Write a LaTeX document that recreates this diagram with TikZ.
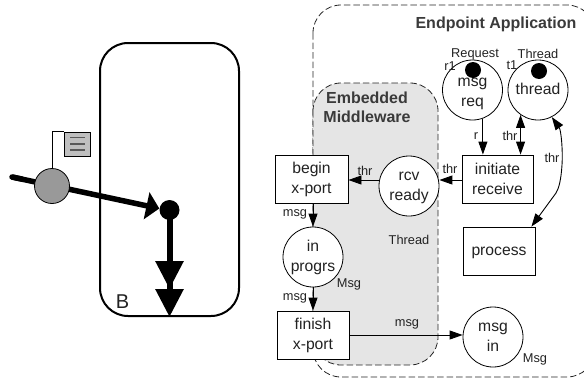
\documentclass[tikz,border=0pt]{standalone}
\usepackage{fontspec}
\setmainfont{Liberation Sans}
\usetikzlibrary{arrows.meta,calc}
\definecolor{txt}{HTML}{222222}
\definecolor{ttl}{HTML}{3A3A3A}
\newcommand\tx[2][0]{\raisebox{\dimexpr-#1pt-3.9pt\relax}[0pt][0pt]{\begin{tabular}{@{}c@{}}#2\end{tabular}}}
\tikzset{
  place/.style={circle,draw,line width=.8pt,fill=white,inner sep=0pt,minimum size=60pt,font=\fontsize{15.7}{20}\selectfont,text=txt},
  trans/.style={rectangle,draw,line width=.9pt,fill=white,inner sep=0pt,minimum width=72pt,minimum height=48pt,font=\fontsize{15.7}{20}\selectfont,text=txt},
  token/.style={circle,fill=black,inner sep=0pt,minimum size=16pt},
  lbl/.style={inner sep=0pt,font=\fontsize{12.8}{14}\selectfont,text=txt},
  ttlb/.style={inner sep=0pt,font=\fontsize{16}{19}\selectfont\bfseries,text=ttl,align=center},
  arc/.style={line width=.9pt,-{Triangle[length=13pt,width=9pt]}},
  biarc/.style={line width=.9pt,{Triangle[length=13pt,width=9pt]}-{Triangle[length=13pt,width=9pt]}},
  region/.style={dash pattern=on 6.5pt off 3pt,line width=.8pt,draw=black!85,rounded corners=28pt},
}
\begin{document}
\begin{tikzpicture}[x=1pt,y=-1pt]
\useasboundingbox (0,0) rectangle (584,378);
\begin{scope}
\clip (0,0) rectangle (584,378);
\draw[region] (313,5) rectangle (595,377);
\end{scope}
\path[region,fill=black!10] (313,83) rectangle (438,365);
% left part
\node[draw,line width=2pt,rounded corners=28pt,minimum width=139pt,minimum height=273pt,inner sep=0pt] (B) at (169.5,179.5) {};
\node[inner sep=0pt,font=\fontsize{20}{22}\selectfont,text=txt] (Blabel) at (122.5,302) {B};
\coordinate (src) at (12,177);
\node[circle,fill=black,inner sep=0pt,minimum size=20pt] (dot) at (169.5,210) {};
\draw[line width=5.5pt,-{Triangle[length=13pt,width=27pt]}] (src) -- (dot.west |- 0,208.5);
\draw[line width=5.5pt,line cap=round] (src) -- ++(10,2.1);
\draw[line width=6pt,-{Triangle[length=28pt,width=27pt]Triangle[length=28pt,width=27pt]}] (dot.center) -- (B.south);
\node[circle,draw,line width=.8pt,fill=black!40,inner sep=0pt,minimum size=35pt] (ctx) at (52,186) {};
\node[rectangle,draw,line width=.9pt,fill=black!25,inner sep=0pt,minimum width=26pt,minimum height=24pt] (flag) at (77,144) {};
\draw[line width=.8pt] (ctx.north) |- (flag.north west);
\foreach \yy in {137.5,144,150}{\draw[line width=1.1pt,black!65] (70,\yy) -- (85,\yy);}
% places and transitions
\node[place] (msgreq) at (472.5,90) {\tx[2]{msg\\req}};
\node[place] (thread) at (538,90) {\tx[.5]{thread}};
\node[token] (t1tok) at (473,70) {};
\node[token] (t2tok) at (539,71) {};
\node[trans,minimum width=71pt] (init) at (497.5,179) {\tx[1]{initiate\\receive}};
\node[place] (rcv) at (409,186) {\tx{rcv\\ready}};
\node[trans,minimum width=73pt] (begin) at (311.5,179) {\tx{begin\\x-port}};
\node[place] (prog) at (313,257) {\tx{in\\progrs}};
\node[trans] (finish) at (313,335) {\tx{finish\\x-port}};
\node[place] (msgin) at (493,337) {\tx{msg\\in}};
\node[trans] (proc) at (499,251) {\tx{process}};
% arcs
\draw[arc] (msgreq.-70) -- (msgreq.-70 |- init.north);
\draw[biarc] (thread.-125) -- (thread.-125 |- init.north);
\coordinate (procin) at ($(proc.north east)+(-4,0)$);
\draw[biarc] (thread.-63) .. controls (561,130) and (563,150) .. (562,165) .. controls (561,180) and (559,188) .. (556,193) -- (procin);
\draw[arc] (init.west |- 0,180) -- (rcv.east |- 0,180);
\draw[arc] (rcv.west |- 0,180) -- (begin.east |- 0,180);
\draw[arc] (begin.south -| prog.north) -- (prog.north);
\draw[arc] (prog.south) -- (prog.south |- finish.north);
\draw[arc] (finish.east |- 0,335) -- (msgin.west |- 0,335);
% labels
\node[ttlb] (title1) at (496,24) {Endpoint Application};
\node[ttlb] (title2) at (367,107.5) {Embedded\\[0pt]Middleware};
\node[lbl] (l1) at (475,54) {Request};
\node[lbl] (l2) at (538,54) {Thread};
\node[lbl] (l3) at (450,66) {r1};
\node[lbl] (l4) at (512,65) {t1};
\node[lbl] (l5) at (476,136) {r};
\node[lbl] (l6) at (510,136) {thr};
\node[lbl] (l7) at (552,158) {thr};
\node[lbl] (l8) at (450,169) {thr};
\node[lbl] (l9) at (365,171) {thr};
\node[lbl] (l10) at (295,214) {msg};
\node[lbl] (l11) at (295,298) {msg};
\node[lbl] (l12) at (407,324) {msg};
\node[lbl] (l13) at (409,240) {Thread};
\node[lbl] (l14) at (349,284) {Msg};
\node[lbl] (l15) at (535,359) {Msg};
\end{tikzpicture}
\end{document}
